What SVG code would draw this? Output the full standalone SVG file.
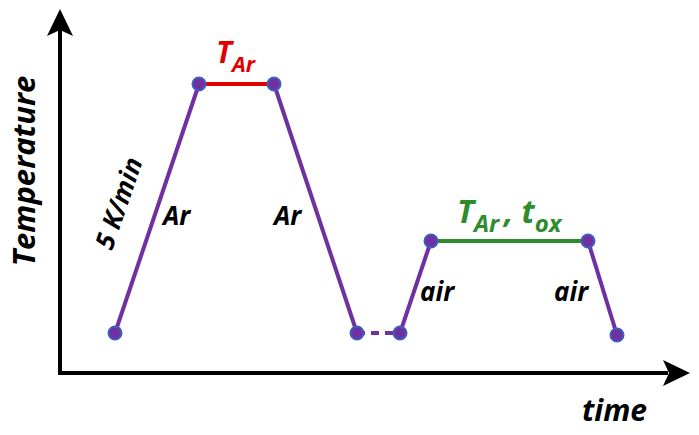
<svg xmlns="http://www.w3.org/2000/svg" width="699" height="435" viewBox="0 0 699 435">
<style>
.t{font-family:"Open Sans","Liberation Sans",sans-serif;font-weight:bold;font-style:italic;}
.lbl{font-size:26px;fill:#000;}
.seg{stroke:#7030A0;stroke-width:4;fill:none;}
.dot{fill:#7030A0;stroke:#3F5FBF;stroke-width:2;}
</style>
<rect width="699" height="435" fill="#fff"/>
<g id="axes">
<line x1="60" y1="375" x2="60" y2="30" stroke="#000" stroke-width="4"/>
<polygon points="60,9 73,36 60,30 47,36" fill="#000"/>
<line x1="58" y1="373" x2="668" y2="373" stroke="#000" stroke-width="4"/>
<polygon points="690,373 663,386 669,373 663,360" fill="#000"/>
</g>
<g id="connectors">
<polyline class="seg" points="115,333 199,84"/>
<line x1="199" y1="84" x2="274" y2="84" stroke="#E00000" stroke-width="4"/>
<polyline class="seg" points="274,84 357,333"/>
<line class="seg" x1="357" y1="333" x2="400" y2="333" stroke-dasharray="8,6"/>
<polyline class="seg" points="400,333 431,241"/>
<line x1="431" y1="241" x2="588" y2="241" stroke="#2E8B2E" stroke-width="4"/>
<polyline class="seg" points="588,241 617,335"/>
</g>
<g id="points">
<circle class="dot" cx="115" cy="333" r="6.5"/>
<circle class="dot" cx="199" cy="84" r="6.5"/>
<circle class="dot" cx="274" cy="84" r="6.5"/>
<circle class="dot" cx="357" cy="333" r="6.5"/>
<circle class="dot" cx="400" cy="333" r="6.5"/>
<circle class="dot" cx="431" cy="241" r="6.5"/>
<circle class="dot" cx="588" cy="241" r="6.5"/>
<circle class="dot" cx="617" cy="335" r="6.5"/>
</g>
<g id="labels">
<text class="t" x="216" y="63" font-size="30" fill="#E00000">T<tspan font-size="22" dy="9">Ar</tspan></text>
<text class="t" x="457" y="223" font-size="32" fill="#2E8B2E">T<tspan font-size="24" dy="9">Ar</tspan><tspan font-size="32" dx="5" dy="-9">, t</tspan><tspan font-size="24" dy="9">ox</tspan></text>
<text class="t lbl" x="163" y="225">Ar</text>
<text class="t lbl" x="274" y="225">Ar</text>
<text class="t lbl" x="420" y="301">air</text>
<text class="t lbl" x="554" y="301">air</text>
<text class="t lbl" font-size="21" transform="translate(112,251) rotate(-71)">5 K/min</text>
<text class="t" font-size="31" fill="#000" text-anchor="middle" transform="translate(35,171) rotate(-90)">Temperature</text>
<text class="t" font-size="30" fill="#000" x="582" y="421">time</text>
</g>
</svg>
